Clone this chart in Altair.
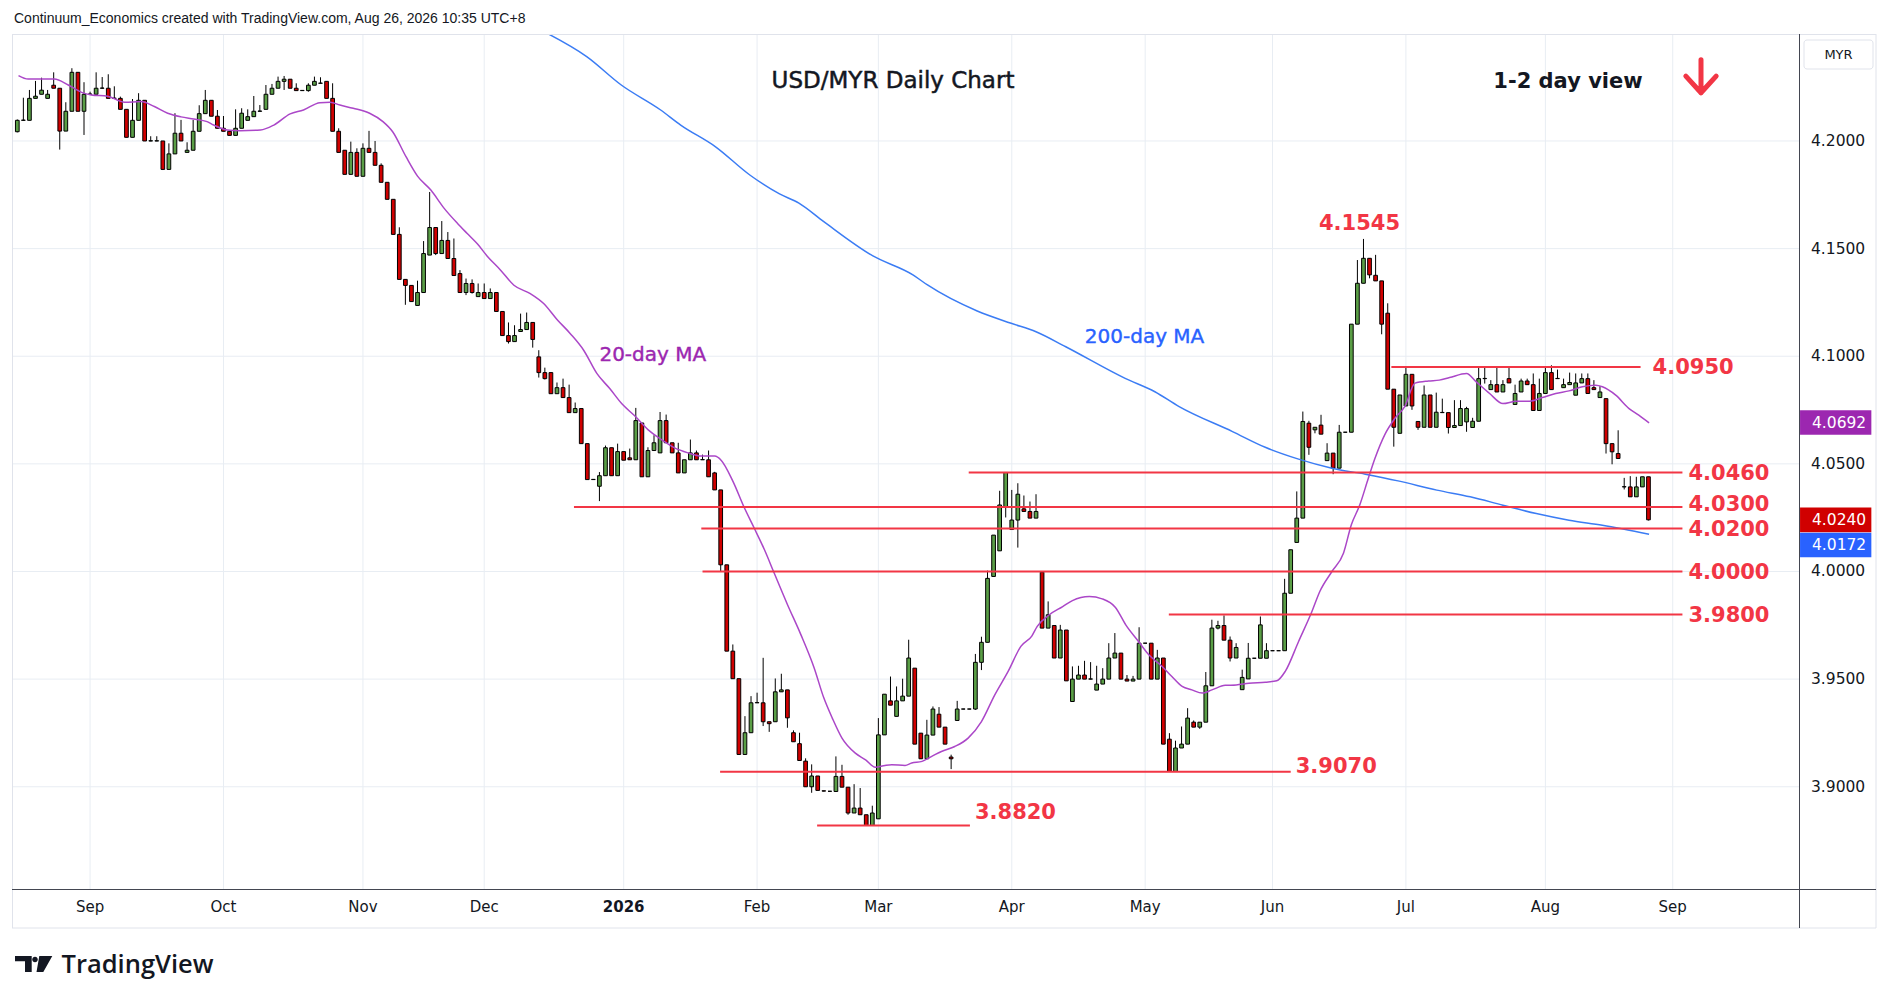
import altair as alt
import pandas as pd

# ---------------- data ----------------
first_bar = -12   # bar index of the first visible candle (0 = 1 Sep 2025, trading-day count)

opens = [
    4.2043, 4.2096, 4.2096, 4.2198, 4.2217, 4.2198, 4.2259, 4.2245, 4.2046, 4.2138,
    4.2319, 4.2138, 4.2217, 4.2217, 4.2245, 4.2245, 4.2198, 4.2198, 4.2147, 4.2017,
    4.2096, 4.2189, 4.2000, 4.2000, 4.2000, 4.1868, 4.1940, 4.2036, 4.1947, 4.1957,
    4.2045, 4.2127, 4.2189, 4.2115, 4.2059, 4.2045, 4.2026, 4.2059, 4.2096, 4.2113,
    4.2138, 4.2147, 4.2217, 4.2245, 4.2277, 4.2287, 4.2245, 4.2234, 4.2234, 4.2259,
    4.2268, 4.2277, 4.2198, 4.2045, 4.1957, 4.1845, 4.1947, 4.1836, 4.1966, 4.1947,
    4.1887, 4.1808, 4.1729, 4.1566, 4.1357, 4.1329, 4.1236, 4.1296, 4.1470, 4.1598,
    4.1477, 4.1538, 4.1454, 4.1384, 4.1296, 4.1338, 4.1277, 4.1296, 4.1268, 4.1296,
    4.1208, 4.1096, 4.1068, 4.1115, 4.1124, 4.1157, 4.0997, 4.0924, 4.0924, 4.0826,
    4.0854, 4.0808, 4.0738, 4.0757, 4.0594, 4.0427, 4.0396, 4.0445, 4.0575, 4.0445,
    4.0557, 4.0528, 4.0519, 4.0690, 4.0440, 4.0562, 4.0551, 4.0701, 4.0598, 4.0551,
    4.0458, 4.0519, 4.0551, 4.0519, 4.0519, 4.0458, 4.0379, 4.0031, 3.9630, 3.9502,
    3.9150, 3.9251, 3.9390, 3.9390, 3.9302, 3.9302, 3.9441, 3.9450, 3.9251, 3.9200,
    3.9119, 3.9000, 3.9050, 3.8981, 3.8979, 3.8978, 3.9048, 3.8998, 3.8878, 3.8901,
    3.8870, 3.8820, 3.8851, 3.9241, 3.9399, 3.9327, 3.9399, 3.9421, 3.9551, 3.9249,
    3.9130, 3.9240, 3.9337, 3.9277, 3.9138, 3.9308, 3.9361, 3.9361, 3.9361, 3.9578,
    3.9671, 3.9977, 4.0096, 4.0300, 4.0195, 4.0239, 4.0291, 4.0279, 4.0248, 3.9997,
    3.9737, 3.9749, 3.9598, 3.9728, 3.9396, 3.9500, 3.9519, 3.9500, 3.9449, 3.9477,
    3.9500, 3.9598, 3.9621, 3.9500, 3.9491, 3.9500, 3.9667, 3.9667, 3.9500, 3.9598,
    3.9221, 3.9071, 3.9180, 3.9198, 3.9300, 3.9277, 3.9300, 3.9469, 3.9737, 3.9749,
    3.9681, 3.9598, 3.9451, 3.9501, 3.9597, 3.9597, 3.9597, 3.9632, 3.9632, 3.9632,
    3.9899, 4.0135, 4.0248, 4.0689, 4.0658, 4.0680, 4.0515, 4.0550, 4.0480, 4.0647,
    4.0647, 4.1149, 4.1339, 4.1455, 4.1376, 4.1350, 4.1200, 4.0847, 4.0642, 4.0769,
    4.0916, 4.0697, 4.0670, 4.0820, 4.0670, 4.0738, 4.0738, 4.0669, 4.0678, 4.0695,
    4.0669, 4.0698, 4.0896, 4.0845, 4.0868, 4.0834, 4.0896, 4.0776, 4.0834, 4.0885,
    4.0868, 4.0748, 4.0827, 4.0924, 4.0896, 4.0854, 4.0868, 4.0819, 4.0876, 4.0896,
    4.0854, 4.0808, 4.0803, 4.0594, 4.0548, 4.0393, 4.0393, 4.0347, 4.0393, 4.0440,
]
highs = [
    4.2100, 4.2201, 4.2237, 4.2279, 4.2294, 4.2237, 4.2319, 4.2245, 4.2180, 4.2338,
    4.2319, 4.2273, 4.2229, 4.2319, 4.2297, 4.2310, 4.2254, 4.2206, 4.2147, 4.2195,
    4.2222, 4.2189, 4.2022, 4.2022, 4.2000, 4.1989, 4.2129, 4.2098, 4.1994, 4.2098,
    4.2166, 4.2237, 4.2189, 4.2144, 4.2116, 4.2045, 4.2147, 4.2152, 4.2147, 4.2209,
    4.2167, 4.2260, 4.2265, 4.2299, 4.2302, 4.2287, 4.2268, 4.2236, 4.2268, 4.2299,
    4.2296, 4.2277, 4.2268, 4.2059, 4.1957, 4.1997, 4.1966, 4.1989, 4.2047, 4.2000,
    4.1896, 4.1808, 4.1729, 4.1599, 4.1357, 4.1329, 4.1351, 4.1535, 4.1763, 4.1598,
    4.1628, 4.1577, 4.1547, 4.1400, 4.1361, 4.1357, 4.1338, 4.1338, 4.1315, 4.1296,
    4.1208, 4.1157, 4.1144, 4.1198, 4.1203, 4.1157, 4.1028, 4.0947, 4.0924, 4.0878,
    4.0896, 4.0868, 4.0785, 4.0757, 4.0594, 4.0429, 4.0462, 4.0585, 4.0575, 4.0594,
    4.0557, 4.0571, 4.0760, 4.0690, 4.0577, 4.0633, 4.0741, 4.0729, 4.0598, 4.0598,
    4.0519, 4.0613, 4.0562, 4.0543, 4.0562, 4.0463, 4.0379, 4.0031, 3.9661, 3.9502,
    3.9328, 3.9421, 3.9437, 3.9599, 3.9302, 3.9503, 3.9525, 3.9450, 3.9262, 3.9251,
    3.9132, 3.9104, 3.9050, 3.8982, 3.8980, 3.9141, 3.9102, 3.8998, 3.9012, 3.8994,
    3.8870, 3.8912, 3.9319, 3.9430, 3.9512, 3.9466, 3.9502, 3.9683, 3.9551, 3.9249,
    3.9311, 3.9373, 3.9370, 3.9277, 3.9149, 3.9399, 3.9362, 3.9362, 3.9617, 3.9697,
    4.0004, 4.0169, 4.0375, 4.0460, 4.0379, 4.0410, 4.0353, 4.0325, 4.0359, 3.9997,
    3.9861, 3.9749, 3.9752, 3.9728, 3.9559, 3.9562, 3.9585, 3.9579, 3.9562, 3.9551,
    3.9667, 3.9714, 3.9621, 3.9519, 3.9515, 3.9741, 3.9668, 3.9667, 3.9636, 3.9598,
    3.9249, 3.9214, 3.9280, 3.9365, 3.9308, 3.9300, 3.9533, 3.9776, 3.9771, 3.9796,
    3.9698, 3.9667, 3.9544, 3.9668, 3.9598, 3.9791, 3.9667, 3.9633, 3.9633, 3.9966,
    4.0101, 4.0372, 4.0743, 4.0700, 4.0670, 4.0728, 4.0596, 4.0550, 4.0681, 4.0648,
    4.1149, 4.1447, 4.1545, 4.1455, 4.1471, 4.1350, 4.1246, 4.0847, 4.0820, 4.0947,
    4.0916, 4.0697, 4.0864, 4.0820, 4.0831, 4.0803, 4.0738, 4.0796, 4.0796, 4.0765,
    4.0714, 4.0950, 4.0950, 4.0889, 4.0950, 4.0889, 4.0950, 4.0868, 4.0896, 4.0896,
    4.0920, 4.0896, 4.0950, 4.0958, 4.0938, 4.0896, 4.0924, 4.0920, 4.0920, 4.0920,
    4.0889, 4.0861, 4.0803, 4.0594, 4.0656, 4.0435, 4.0443, 4.0440, 4.0440, 4.0440,
]
lows = [
    4.2040, 4.2094, 4.2096, 4.2198, 4.2217, 4.2198, 4.2245, 4.1960, 4.2046, 4.2138,
    4.2138, 4.2028, 4.2215, 4.2217, 4.2243, 4.2198, 4.2196, 4.2147, 4.2017, 4.2017,
    4.2096, 4.2000, 4.1999, 4.1999, 4.1865, 4.1868, 4.1940, 4.2000, 4.1947, 4.1957,
    4.2045, 4.2127, 4.2115, 4.2059, 4.2045, 4.2026, 4.2026, 4.2059, 4.2096, 4.2113,
    4.2137, 4.2147, 4.2217, 4.2245, 4.2237, 4.2245, 4.2234, 4.2233, 4.2229, 4.2259,
    4.2267, 4.2198, 4.2045, 4.1947, 4.1845, 4.1845, 4.1836, 4.1836, 4.1947, 4.1887,
    4.1808, 4.1729, 4.1566, 4.1357, 4.1239, 4.1254, 4.1236, 4.1296, 4.1470, 4.1470,
    4.1477, 4.1454, 4.1375, 4.1296, 4.1284, 4.1291, 4.1277, 4.1268, 4.1268, 4.1208,
    4.1096, 4.1059, 4.1068, 4.1115, 4.1124, 4.1040, 4.0901, 4.0892, 4.0826, 4.0826,
    4.0808, 4.0738, 4.0738, 4.0594, 4.0427, 4.0425, 4.0327, 4.0445, 4.0445, 4.0445,
    4.0517, 4.0519, 4.0519, 4.0440, 4.0440, 4.0562, 4.0551, 4.0598, 4.0551, 4.0458,
    4.0458, 4.0519, 4.0519, 4.0518, 4.0440, 4.0379, 4.0002, 3.9630, 3.9502, 3.9150,
    3.9150, 3.9251, 3.9389, 3.9282, 3.9255, 3.9302, 3.9441, 3.9274, 3.9209, 3.9122,
    3.9000, 3.8972, 3.8983, 3.8978, 3.8977, 3.8978, 3.8998, 3.8870, 3.8878, 3.8870,
    3.8820, 3.8820, 3.8851, 3.9241, 3.9379, 3.9327, 3.9399, 3.9421, 3.9198, 3.9130,
    3.9130, 3.9240, 3.9277, 3.9198, 3.9082, 3.9308, 3.9360, 3.9360, 3.9357, 3.9542,
    3.9671, 3.9977, 4.0096, 4.0251, 4.0195, 4.0111, 4.0279, 4.0248, 4.0248, 3.9737,
    3.9737, 3.9598, 3.9598, 3.9492, 3.9396, 3.9500, 3.9500, 3.9499, 3.9449, 3.9477,
    3.9500, 3.9598, 3.9500, 3.9491, 3.9491, 3.9500, 3.9666, 3.9500, 3.9500, 3.9198,
    3.9071, 3.9071, 3.9180, 3.9198, 3.9277, 3.9269, 3.9300, 3.9469, 3.9731, 3.9681,
    3.9582, 3.9598, 3.9451, 3.9501, 3.9596, 3.9597, 3.9597, 3.9631, 3.9631, 3.9632,
    3.9899, 4.0135, 4.0248, 4.0542, 4.0642, 4.0638, 4.0515, 4.0452, 4.0480, 4.0646,
    4.0647, 4.1149, 4.1339, 4.1362, 4.1350, 4.1102, 4.0847, 4.0580, 4.0642, 4.0769,
    4.0751, 4.0658, 4.0670, 4.0670, 4.0670, 4.0737, 4.0641, 4.0669, 4.0678, 4.0649,
    4.0669, 4.0698, 4.0873, 4.0845, 4.0834, 4.0834, 4.0876, 4.0776, 4.0834, 4.0868,
    4.0748, 4.0748, 4.0827, 4.0845, 4.0895, 4.0854, 4.0868, 4.0819, 4.0876, 4.0827,
    4.0845, 4.0808, 4.0548, 4.0498, 4.0525, 4.0381, 4.0347, 4.0347, 4.0393, 4.0237,
]
closes = [
    4.2096, 4.2097, 4.2198, 4.2208, 4.2236, 4.2217, 4.2245, 4.2046, 4.2138, 4.2319,
    4.2138, 4.2217, 4.2218, 4.2245, 4.2246, 4.2198, 4.2199, 4.2147, 4.2017, 4.2096,
    4.2189, 4.2000, 4.2001, 4.2001, 4.1868, 4.1940, 4.2036, 4.2000, 4.1957, 4.2045,
    4.2127, 4.2189, 4.2115, 4.2059, 4.2045, 4.2026, 4.2059, 4.2129, 4.2113, 4.2138,
    4.2139, 4.2217, 4.2245, 4.2277, 4.2287, 4.2245, 4.2234, 4.2235, 4.2259, 4.2277,
    4.2269, 4.2198, 4.2045, 4.1947, 4.1845, 4.1947, 4.1836, 4.1966, 4.1947, 4.1887,
    4.1808, 4.1729, 4.1566, 4.1357, 4.1329, 4.1254, 4.1296, 4.1477, 4.1598, 4.1477,
    4.1538, 4.1454, 4.1375, 4.1296, 4.1338, 4.1296, 4.1296, 4.1268, 4.1296, 4.1208,
    4.1096, 4.1068, 4.1096, 4.1124, 4.1157, 4.1078, 4.0924, 4.0896, 4.0826, 4.0854,
    4.0808, 4.0738, 4.0757, 4.0594, 4.0427, 4.0428, 4.0445, 4.0575, 4.0445, 4.0557,
    4.0517, 4.0519, 4.0701, 4.0440, 4.0562, 4.0598, 4.0701, 4.0598, 4.0551, 4.0458,
    4.0519, 4.0551, 4.0519, 4.0520, 4.0440, 4.0379, 4.0031, 3.9630, 3.9502, 3.9150,
    3.9251, 3.9390, 3.9391, 3.9302, 3.9293, 3.9441, 3.9450, 3.9320, 3.9209, 3.9122,
    3.9000, 3.9050, 3.8983, 3.8980, 3.8979, 3.9048, 3.8998, 3.8878, 3.8901, 3.8870,
    3.8820, 3.8878, 3.9241, 3.9430, 3.9379, 3.9399, 3.9421, 3.9598, 3.9198, 3.9130,
    3.9240, 3.9361, 3.9277, 3.9198, 3.9130, 3.9361, 3.9361, 3.9361, 3.9578, 3.9671,
    3.9968, 4.0169, 4.0309, 4.0460, 4.0239, 4.0359, 4.0279, 4.0248, 4.0279, 3.9737,
    3.9799, 3.9598, 3.9728, 3.9492, 3.9500, 3.9519, 3.9500, 3.9501, 3.9477, 3.9500,
    3.9598, 3.9621, 3.9500, 3.9491, 3.9500, 3.9667, 3.9667, 3.9500, 3.9598, 3.9198,
    3.9071, 3.9180, 3.9198, 3.9319, 3.9277, 3.9300, 3.9469, 3.9737, 3.9749, 3.9681,
    3.9598, 3.9647, 3.9508, 3.9597, 3.9597, 3.9752, 3.9632, 3.9632, 3.9632, 3.9899,
    4.0101, 4.0248, 4.0697, 4.0577, 4.0670, 4.0638, 4.0550, 4.0480, 4.0647, 4.0647,
    4.1149, 4.1339, 4.1455, 4.1378, 4.1350, 4.1149, 4.0847, 4.0670, 4.0820, 4.0916,
    4.0769, 4.0670, 4.0820, 4.0670, 4.0740, 4.0739, 4.0669, 4.0678, 4.0757, 4.0757,
    4.0698, 4.0896, 4.0897, 4.0868, 4.0834, 4.0868, 4.0876, 4.0827, 4.0885, 4.0868,
    4.0748, 4.0827, 4.0924, 4.0845, 4.0897, 4.0868, 4.0878, 4.0876, 4.0896, 4.0827,
    4.0845, 4.0834, 4.0594, 4.0556, 4.0525, 4.0394, 4.0347, 4.0393, 4.0440, 4.0240,
]

# 20-day moving average, read at sample positions (bar index, value)
ma20_bar = [-11.8, -10.2, -5.9, -3.6, -1.4, 0.2, 2.9, 5.7, 8.4, 10.6, 12.8, 15.0, 17.1, 19.3,
            20.4, 22.6, 24.8, 28.1, 30.3, 33.0, 35.2, 37.9, 39.6, 41.2, 43.4, 46.1, 48.3, 49.9, 52.1,
            54.0, 56.2, 58.4, 60.6, 62.2, 63.9, 65.5, 67.7, 69.9, 72.6, 74.8, 77.0, 79.2, 81.4, 83.6, 85.7,
            87.7, 89.9, 92.0, 94.2, 96.4, 98.6, 100.8, 103.0, 104.1, 106.0, 107.9, 109.5, 111.2, 112.8,
            115.0, 117.2, 119.4, 121.0, 122.4, 124.0, 126.2, 127.9, 129.5, 131.1, 132.2, 134.4, 135.5,
            137.2, 138.8, 140.4, 142.6, 144.8, 147.0, 149.2, 151.4, 153.5, 155.3, 156.2, 158.2, 160.4,
            162.0, 164.8, 166.9, 169.1, 170.8, 172.9, 174.6, 176.8, 178.4, 180.1, 181.7, 183.4, 185.0,
            187.2, 189.0, 191.1, 193.8, 195.7, 197.1, 199.3, 201.5, 202.8, 204.8, 206.7, 208.0, 209.4,
            210.8, 211.9, 213.5, 215.2, 216.8, 218.5, 220.7, 222.5, 224.2, 227.0, 228.6, 230.8, 233.0,
            235.2, 237.4, 239.5, 241.7, 243.9, 246.1, 248.3, 249.4, 251.6, 253.8, 255.4, 257.1]
ma20_val = [4.2304, 4.2288, 4.2288, 4.2260, 4.2226, 4.2214, 4.2208, 4.2180, 4.2183, 4.2160, 4.2129, 4.2112, 4.2102, 4.2090,
            4.2074, 4.2051, 4.2048, 4.2051, 4.2074, 4.2126, 4.2144, 4.2178, 4.2180, 4.2167, 4.2152, 4.2129, 4.2090, 4.2043, 4.1927,
            4.1837, 4.1772, 4.1687, 4.1617, 4.1570, 4.1521, 4.1465, 4.1400, 4.1330, 4.1291, 4.1245, 4.1171, 4.1105, 4.1028, 4.0919, 4.0850,
            4.0779, 4.0721, 4.0659, 4.0613, 4.0574, 4.0551, 4.0536, 4.0536, 4.0516, 4.0420, 4.0296, 4.0203, 4.0102, 3.9994,
            3.9847, 3.9708, 3.9553, 3.9413, 3.9319, 3.9226, 3.9156, 3.9125, 3.9091, 3.9099, 3.9102, 3.9099, 3.9110,
            3.9118, 3.9141, 3.9164, 3.9187, 3.9226, 3.9303, 3.9427, 3.9536, 3.9652, 3.9700, 3.9745, 3.9799, 3.9837,
            3.9865, 3.9884, 3.9873, 3.9833, 3.9752, 3.9675, 3.9613, 3.9559, 3.9512, 3.9466, 3.9450, 3.9435, 3.9450,
            3.9471, 3.9473, 3.9481, 3.9486, 3.9492, 3.9536, 3.9675, 3.9814, 3.9907, 4.0000, 4.0085, 4.0217, 4.0310,
            4.0433, 4.0526, 4.0635, 4.0712, 4.0766, 4.0875, 4.0885, 4.0889, 4.0901, 4.0920, 4.0881, 4.0827, 4.0780,
            4.0791, 4.0791, 4.0808, 4.0827, 4.0839, 4.0858, 4.0865, 4.0858, 4.0819, 4.0757, 4.0726, 4.0690]

# 200-day moving average, read at sample positions
ma200_bar = [75.4, 81.9, 87.6, 94.1, 97.4, 103.1, 108.8, 113.7, 116.9, 121.0, 129.1, 135.7, 138.1,
             146.3, 151.9, 156.0, 160.9, 170.7, 175.6, 179.6, 188.4, 193.8, 199.3, 204.8, 210.3,
             215.7, 222.1, 227.6, 233.0, 238.5, 243.9, 249.4, 257.1]
ma200_val = [4.2500, 4.2392, 4.2260, 4.2144, 4.2074, 4.1974, 4.1842, 4.1754, 4.1711, 4.1625, 4.1466, 4.1378, 4.1331,
             4.1210, 4.1153, 4.1114, 4.1044, 4.0897, 4.0835, 4.0766, 4.0650, 4.0577, 4.0522, 4.0480, 4.0452,
             4.0421, 4.0378, 4.0347, 4.0308, 4.0269, 4.0238, 4.0215, 4.0173]

# horizontal support / resistance levels and their extent in bars
levels = [4.0950, 4.0460, 4.0300, 4.0200, 4.0000, 3.9800, 3.9070, 3.8820]
level_from = [214.6, 144.9, 79.8, 100.8, 101.0, 177.9, 103.9, 119.9]
level_to = [255.7, 262.6, 262.6, 262.6, 262.6, 262.6, 198.0, 145.1]

peak_bar = 210
peak_value = 4.1545

# month ticks (bar index of the first trading day of each month)
month_bar = [0, 22, 45, 65, 88, 110, 130, 152, 174, 195, 217, 240, 261]
month_lbl = ["Sep", "Oct", "Nov", "Dec", "2026", "Feb", "Mar", "Apr", "May", "Jun", "Jul", "Aug", "Sep"]

price_ticks = [3.90, 3.95, 4.00, 4.05, 4.10, 4.15, 4.20]

badge_values = [4.0692, 4.0240, 4.0172]
badge_colors = ["#9c27b0", "#d00000", "#2962ff"]

# ---------------- layout / style ----------------
W, H = 1787, 855
GREEN, RED = "#5a9e46", "#d00000"
LEVEL = "#f23645"
GRID = "#e8edf3"
FRAME = "#e0e3eb"
AXIS = "#434651"
TXT = "#131722"
FONT = "DejaVu Sans"

xs = alt.Scale(domain=[-12.05, 281.0], nice=False, zero=False)
ys = alt.Scale(domain=[3.8525, 4.2497], nice=False, zero=False)


def X(f):
    return alt.X(f"{f}:Q", scale=xs, axis=None)


def Y(f):
    return alt.Y(f"{f}:Q", scale=ys, axis=None)


n = min(len(opens), len(highs), len(lows), len(closes))
bars = pd.DataFrame({
    "bar": list(range(first_bar, first_bar + n)),
    "open": opens[:n], "high": highs[:n], "low": lows[:n], "close": closes[:n],
})
bars["dir"] = ["up" if c >= o else "down" for o, c in zip(bars["open"], bars["close"])]

months = pd.DataFrame({"bar": month_bar, "label": month_lbl})
ticks = pd.DataFrame({"v": price_ticks, "label": [f"{v:.4f}" for v in price_ticks]})
ma20 = pd.DataFrame({"bar": ma20_bar, "v": ma20_val})
ma200 = pd.DataFrame({"bar": ma200_bar, "v": ma200_val})
lv = pd.DataFrame({"v": levels, "x0": level_from, "x1": level_to,
                   "label": [f"{v:.4f}" for v in levels]})
one = pd.DataFrame({"k": [0]})

layers = []

# grid lines
layers.append(alt.Chart(months).mark_rule(color=GRID, strokeWidth=1).encode(x=X("bar")))
layers.append(alt.Chart(ticks).mark_rule(color=GRID, strokeWidth=1).encode(y=Y("v")))

# candles
layers.append(alt.Chart(bars).mark_rule(color="#000000", strokeWidth=1, clip=True).encode(
    x=X("bar"), y=Y("low"), y2="high"))
layers.append(alt.Chart(bars).mark_bar(size=3.7, stroke="#000000", strokeWidth=1, clip=True).encode(
    x=X("bar"), y=Y("open"), y2="close",
    color=alt.Color("dir:N", scale=alt.Scale(domain=["up", "down"], range=[GREEN, RED]), legend=None)))

# moving averages
layers.append(alt.Chart(ma200).mark_line(color="#3b7cf4", strokeWidth=1.5, clip=True,
                                         interpolate="monotone").encode(x=X("bar"), y=Y("v")))
layers.append(alt.Chart(ma20).mark_line(color="#ab47c8", strokeWidth=1.5, clip=True,
                                        interpolate="monotone").encode(x=X("bar"), y=Y("v")))

# level lines
layers.append(alt.Chart(lv).mark_rule(color=LEVEL, strokeWidth=2).encode(
    x=X("x0"), x2="x1", y=Y("v")))


def level_text(rows, dx, dy):
    return alt.Chart(lv.iloc[rows]).mark_text(
        align="left", baseline="middle", dx=dx, dy=dy, font=FONT, fontSize=21,
        fontWeight="bold", color=LEVEL).encode(x=X("x1"), y=Y("v"), text="label:N")


layers.append(level_text([0], 12, 0.5))
layers.append(level_text([1, 3, 4, 5], 6, 1.5))
layers.append(level_text([2], 6, -1.5))
layers.append(level_text([6], 5, -4.5))
layers.append(level_text([7], 5, -12.5))

peak = pd.DataFrame({"bar": [peak_bar], "v": [peak_value], "label": [f"{peak_value:.4f}"]})
layers.append(alt.Chart(peak).mark_text(align="center", baseline="middle", dx=-4, dy=-14.5,
                                        font=FONT, fontSize=21, fontWeight="bold",
                                        color=LEVEL).encode(x=X("bar"), y=Y("v"), text="label:N"))

# MA labels
ma20_lab = pd.DataFrame({"bar": [92.8], "v": [4.1006], "label": ["20-day MA"]})
ma200_lab = pd.DataFrame({"bar": [173.9], "v": [4.1089], "label": ["200-day MA"]})
for d, c in [(ma20_lab, "#9c27b0"), (ma200_lab, "#2962ff")]:
    layers.append(alt.Chart(d).mark_text(align="center", baseline="middle", font=FONT, fontSize=20,
                                         color=c, stroke=c, strokeWidth=0.4).encode(
        x=X("bar"), y=Y("v"), text="label:N"))

# x-axis month labels ("2026" in bold)
layers.append(alt.Chart(months).transform_filter("datum.label != '2026'").mark_text(
    baseline="middle", font=FONT, fontSize=15, color=TXT).encode(
    x=X("bar"), y=alt.value(H + 18), text="label:N"))
layers.append(alt.Chart(months).transform_filter("datum.label == '2026'").mark_text(
    baseline="middle", font=FONT, fontSize=15, fontWeight="bold", color=TXT).encode(
    x=X("bar"), y=alt.value(H + 18), text="label:N"))

# price-scale labels
layers.append(alt.Chart(ticks).mark_text(align="left", baseline="middle", font=FONT, fontSize=15.5,
                                         color=TXT).encode(x=alt.value(1799), y=Y("v"), text="label:N"))


# frame and axis lines
def rule_px(color, **enc):
    return alt.Chart(one).mark_rule(color=color, strokeWidth=1).encode(**enc)


layers.append(rule_px(FRAME, x=alt.value(0), x2=alt.value(1864), y=alt.value(0.5)))
layers.append(rule_px(FRAME, x=alt.value(0), x2=alt.value(1864), y=alt.value(894)))
layers.append(rule_px(FRAME, x=alt.value(0.5), y=alt.value(0), y2=alt.value(894)))
layers.append(rule_px(FRAME, x=alt.value(1864), y=alt.value(0), y2=alt.value(894)))
layers.append(rule_px(AXIS, x=alt.value(1787.5), y=alt.value(0), y2=alt.value(894)))
layers.append(rule_px(AXIS, x=alt.value(0), x2=alt.value(1864), y=alt.value(855.5)))

# price badges on the right scale
badge_offsets = [0, 0, 10.6]
for v, c, off in zip(badge_values, badge_colors, badge_offsets):
    bd = pd.DataFrame({"v": [v], "label": [f"{v:.4f}"]})
    layers.append(alt.Chart(bd).mark_point(shape="M-1,-0.345H1V0.345H-1Z", size=5084, filled=True,
                                           color=c, opacity=1, strokeWidth=0, yOffset=off).encode(
        x=alt.value(1823.7), y=Y("v")))
    layers.append(alt.Chart(bd).mark_text(align="left", baseline="middle", font=FONT, fontSize=15.5,
                                          color="#ffffff", yOffset=off).encode(
        x=alt.value(1800), y=Y("v"), text="label:N"))

# currency box
layers.append(alt.Chart(one).mark_rect(fill="#ffffff", stroke=FRAME, strokeWidth=1, cornerRadius=3).encode(
    x=alt.value(1792), x2=alt.value(1861), y=alt.value(6), y2=alt.value(35)))
layers.append(alt.Chart(one).mark_text(text="MYR", align="center", baseline="middle", font=FONT,
                                       fontSize=13, color=TXT).encode(x=alt.value(1826.5), y=alt.value(21)))

# texts
layers.append(alt.Chart(one).mark_text(
    text="Continuum_Economics created with TradingView.com, Aug 26, 2026 10:35 UTC+8",
    align="left", baseline="middle", font="Liberation Sans", fontSize=14, color=TXT).encode(
    x=alt.value(2), y=alt.value(-15)))
layers.append(alt.Chart(one).mark_text(text="USD/MYR Daily Chart", align="center", baseline="middle",
                                       font=FONT, fontSize=23, color=TXT, stroke=TXT,
                                       strokeWidth=0.5).encode(x=alt.value(881), y=alt.value(47)))
layers.append(alt.Chart(one).mark_text(text="1-2 day view", align="center", baseline="middle",
                                       font=FONT, fontSize=21, fontWeight="bold", color=TXT).encode(
    x=alt.value(1556), y=alt.value(48)))
layers.append(alt.Chart(one).mark_point(shape="M0,-0.9L0,0.88M-0.82,-0.02L0,0.88L0.82,-0.02",
                                        size=1369, filled=False, color=LEVEL, opacity=1,
                                        strokeWidth=5, strokeCap="round", strokeJoin="round").encode(
    x=alt.value(1689), y=alt.value(42.5)))

# TradingView logo mark and wordmark
logo_path = ("M-0.925,-0.4H-0.09V0.4H-0.425V-0.135H-0.925Z "
             "M-0.065,-0.225A0.14,0.14 0 1 0 0.215,-0.225A0.14,0.14 0 1 0 -0.065,-0.225Z "
             "M0.29,-0.4H0.94L0.49,0.4H0.15Z")
layers.append(alt.Chart(one).mark_point(shape=logo_path, size=1600, filled=True, color=TXT,
                                        opacity=1, strokeWidth=0).encode(
    x=alt.value(21.5), y=alt.value(930)))
layers.append(alt.Chart(one).mark_text(text="TradingView", align="left", baseline="alphabetic",
                                       font="Open Sans", fontSize=25.5, fontWeight=600, color=TXT).encode(
    x=alt.value(49.5), y=alt.value(938.5)))

chart = alt.layer(*layers).properties(
    width=W, height=H,
    padding={"left": 4, "top": 26, "right": 82, "bottom": 106},
    autosize=alt.AutoSizeParams(type="none"),
).configure(background="#ffffff").configure_view(stroke=None)

chart.save("out.html", embed_options={"renderer": "svg", "actions": False})
